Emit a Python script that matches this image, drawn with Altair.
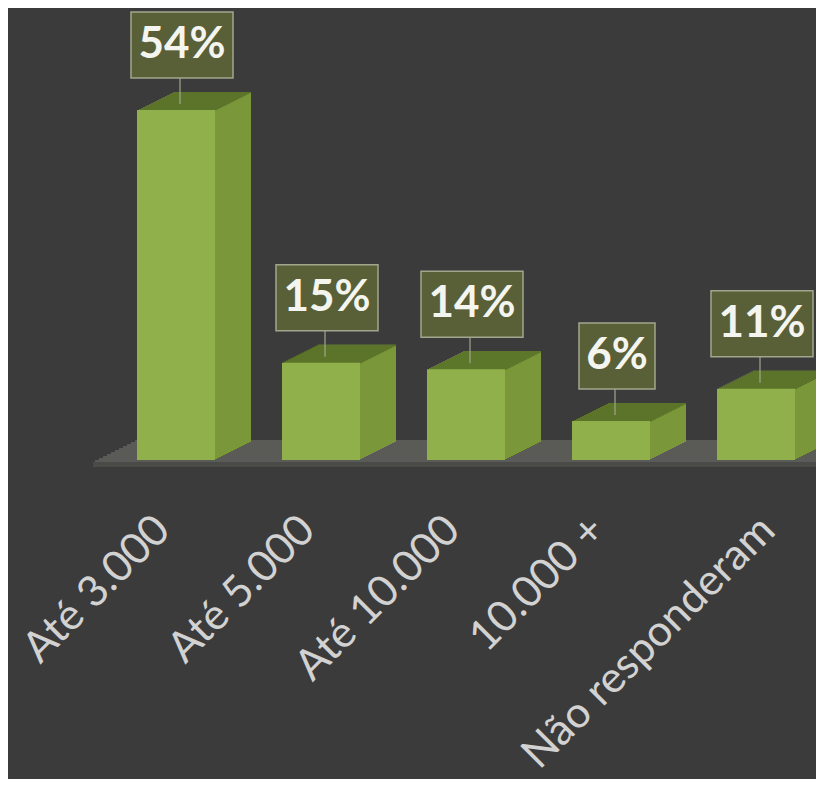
import altair as alt
import pandas as pd

categories = ["Até 3.000", "Até 5.000", "Até 10.000", "10.000 +", "Não responderam"]
values = [54, 15, 14, 6, 11]

df = pd.DataFrame({"cat": categories, "value": values})

BG = "#3b3b3b"
FRONT = "#8fb04b"
SIDE = "#7a983a"
TOP = "#5b742a"
BOX = "#596038"
BOXSTROKE = "#a3a68d"
FLOOR = "#5a5a57"
FLOOR_EDGE = "#4a4a48"

N = 18      # depth steps
DX = 2.0    # px per step
DY = 1.0

x = alt.X(
    "cat:N",
    sort=categories,
    scale=alt.Scale(range=[0, 725], paddingInner=0, paddingOuter=0),
    axis=alt.Axis(
        title=None, labelAngle=315, labelAlign="right", labelBaseline="middle",
        labelPadding=63,
        labelOffset={"condition": {"test": "datum.value == 'Não responderam'", "value": 12},
                     "value": -13},
        ticks=False, domain=False, grid=False,
        labelFont="Lato", labelFontSize=43, labelColor="#d2d2d2", labelLimit=600,
    ),
)
y = alt.Y("value:Q", scale=alt.Scale(domain=[0, 60]), axis=None)
zero = alt.Y2("zero:Q")
top2 = alt.Y2("value:Q")

base = alt.Chart(df).transform_calculate(zero="0", label="datum.value + '%'",
                                         boxw="datum.value < 10 ? 76 : 102")

layers = []

# floor (slanted slab)
floor_steps = 11
for i in range(floor_steps):
    layers.append(
        base.mark_rect(color=FLOOR, yOffset=2 - 2 * (i + 1), y2Offset=2 - 2 * i).encode(
            x=alt.value(-8 + 4 * i), x2=alt.value(760),
            y=alt.Y("zero:Q", scale=alt.Scale(domain=[0, 60]), axis=None), y2=zero,
        )
    )
layers.append(
    base.mark_rect(color=FLOOR_EDGE, yOffset=2, y2Offset=7).encode(
        x=alt.value(-10), x2=alt.value(760),
        y=alt.Y("zero:Q", scale=alt.Scale(domain=[0, 60]), axis=None), y2=zero,
    )
)

# side faces (extrusion, back to front)
for k in range(N, 0, -1):
    layers.append(
        base.mark_bar(size=78, color=SIDE, xOffset=k * DX, yOffset=-k * DY, y2Offset=-k * DY).encode(
            x=x, y=y, y2=zero
        )
    )
# top faces
for k in range(N, 0, -1):
    layers.append(
        base.mark_bar(size=78, color=TOP, xOffset=k * DX, yOffset=-k * DY,
                      y2Offset=-(k - 1) * DY + 0.4).encode(
            x=x, y=y, y2=top2
        )
    )
# front faces
layers.append(
    base.mark_bar(size=78, color=FRONT).encode(x=x, y=y, y2=zero)
)

# leader lines
layers.append(
    base.mark_rule(color="#a3a68d", strokeWidth=1.2, xOffset=4, yOffset=-32, y2Offset=-6).encode(
        x=x, y=y, y2=top2
    )
)

# label boxes
layers.append(
    base.mark_bar(color=BOX, stroke=BOXSTROKE, strokeWidth=1.5, xOffset=6, yOffset=-98, y2Offset=-32)
    .encode(x=x, y=y, y2=top2, size=alt.Size("boxw:Q", scale=None, legend=None))
)

# label text
layers.append(
    base.mark_text(font="Lato", fontWeight="bold", fontSize=44, color="#f5f5ef",
                   dx=6, dy=-65, align="center", baseline="middle")
    .encode(x=x, y=y, text="label:N")
)

chart = (
    alt.layer(*layers)
    .properties(
        width=712.5, height=389,
        padding={"left": 95.5, "top": 63, "right": 0, "bottom": 319},
        autosize=alt.AutoSizeParams(type="none"),
    )
    .configure(background=BG)
    .configure_view(stroke=None)
)

chart.save("out.html", embed_options={"renderer": "svg", "actions": False})
